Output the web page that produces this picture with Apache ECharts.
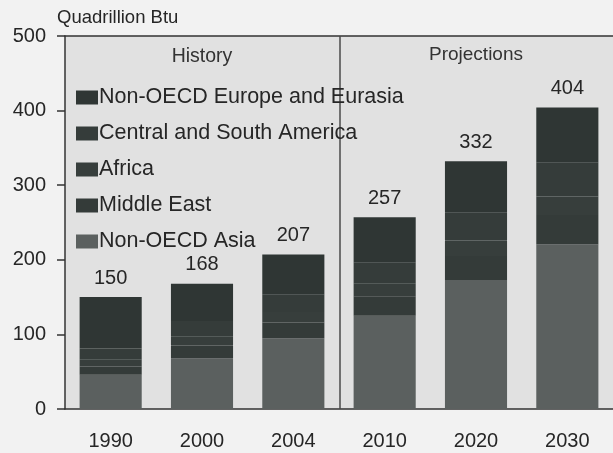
<!DOCTYPE html>
<html>
<head>
<meta charset="utf-8">
<script src="https://cdn.jsdelivr.net/npm/echarts@6/dist/echarts.min.js"></script>
<style>
  html, body { margin: 0; padding: 0; background: #f2f2f2; }
  #chart { width: 613px; height: 453px; }
</style>
</head>
<body>
<div id="chart"></div>
<script>
// Non-OECD energy consumption by region, quadrillion Btu
const years = ['1990', '2000', '2004', '2010', '2020', '2030'];
const nonOecdAsia = [46, 68, 95, 125, 173, 221];
const middleEast = [11, 17, 21, 26, 32, 39];
const africa = [9, 12, 14, 17, 21, 25];
const centralSouthAmerica = [15, 21, 23, 28, 37, 45];
const europeEurasia = [69, 50, 54, 61, 69, 74];
const totals = [150, 168, 207, 257, 332, 404];
const yTicks = [0, 100, 200, 300, 400, 500];

const FONT = 'Liberation Sans, Arial, sans-serif';
const TEXT = '#262626';

const chart = echarts.init(document.getElementById('chart'));

function stackSeries(name, data, color, extra) {
  return Object.assign({
    name: name,
    type: 'bar',
    stack: 'total',
    data: data,
    barWidth: '68%',
    itemStyle: { color: color },
    emphasis: { disabled: true },
    xAxisIndex: 0,
    yAxisIndex: 0
  }, extra || {});
}

const option = {
  backgroundColor: '#f2f2f2',
  animation: false,
  textStyle: { fontFamily: FONT },
  grid: {
    left: 65, right: 0, top: 36, bottom: 44,
    show: true, backgroundColor: '#e1e1e1', borderWidth: 0
  },
  legend: {
    orient: 'vertical',
    left: 71,
    top: 81,
    itemWidth: 22,
    itemHeight: 14,
    itemGap: 13,
    icon: 'rect',
    selectedMode: false,
    textStyle: { fontFamily: FONT, fontSize: 21.5, lineHeight: 23, color: TEXT, padding: [0, 0, 0, -4] },
    data: [
      'Non-OECD Europe and Eurasia',
      'Central and South America',
      'Africa',
      'Middle East',
      'Non-OECD Asia'
    ]
  },
  xAxis: [
    {
      type: 'category',
      data: years,
      axisLine: { lineStyle: { color: '#333', width: 1.5 } },
      axisTick: { alignWithLabel: true, length: 8, lineStyle: { color: '#333', width: 1.5 } },
      axisLabel: { fontFamily: FONT, fontSize: 20, color: TEXT, margin: 22 },
      splitLine: { show: false }
    },
    {
      type: 'category',
      data: years,
      position: 'top',
      axisLine: { lineStyle: { color: '#333', width: 1.5 } },
      axisTick: { show: false },
      axisLabel: { show: false }
    }
  ],
  yAxis: {
    type: 'value',
    min: yTicks[0],
    max: yTicks[yTicks.length - 1],
    interval: 100,
    name: 'Quadrillion Btu',
    nameLocation: 'end',
    nameGap: 9,
    nameTextStyle: { fontFamily: FONT, fontSize: 18.5, color: TEXT, align: 'left', padding: [0, 0, 0, -8] },
    axisLine: { show: true, lineStyle: { color: '#333', width: 1.5 } },
    axisTick: { show: true, length: 8, lineStyle: { color: '#333', width: 1.5 } },
    axisLabel: { fontFamily: FONT, fontSize: 20, color: TEXT, margin: 19 },
    splitLine: { show: false }
  },
  series: [
    stackSeries('Non-OECD Asia', nonOecdAsia, '#5b605f'),
    stackSeries('Middle East', middleEast, '#343b39'),
    stackSeries('Africa', africa, '#373e3c'),
    stackSeries('Central and South America', centralSouthAmerica, '#353c3a'),
    stackSeries('Non-OECD Europe and Eurasia', europeEurasia, '#2f3634', {
      label: {
        show: true,
        position: 'top',
        distance: 9,
        fontFamily: FONT,
        fontSize: 20,
        color: TEXT,
        formatter: function (p) { return String(totals[p.dataIndex]); }
      }
    })
  ]
};

chart.setOption(option);

// Divider between history and projections, and the period headings
const xHistEnd = chart.convertToPixel({ xAxisIndex: 0 }, '2004');
const xProjStart = chart.convertToPixel({ xAxisIndex: 0 }, '2010');
const xDivider = (xHistEnd + xProjStart) / 2 + 1;
const yTop = chart.convertToPixel({ yAxisIndex: 0 }, yTicks[yTicks.length - 1]);
const yBottom = chart.convertToPixel({ yAxisIndex: 0 }, yTicks[0]);
const headY = chart.convertToPixel({ yAxisIndex: 0 }, 472);

chart.setOption({
  graphic: [
    {
      type: 'line',
      shape: { x1: xDivider, y1: yTop, x2: xDivider, y2: yBottom },
      style: { stroke: '#4a4a4a', lineWidth: 1.5 },
      z: 1
    },
    {
      type: 'text',
      x: chart.convertToPixel({ xAxisIndex: 0 }, '2000'),
      y: headY,
      style: { text: 'History', font: '19.5px ' + FONT, fill: '#333', align: 'center', verticalAlign: 'middle' }
    },
    {
      type: 'text',
      x: chart.convertToPixel({ xAxisIndex: 0 }, '2020'),
      y: headY - 2,
      style: { text: 'Projections', font: '19px ' + FONT, fill: '#333', align: 'center', verticalAlign: 'middle' }
    }
  ]
});
</script>
</body>
</html>
